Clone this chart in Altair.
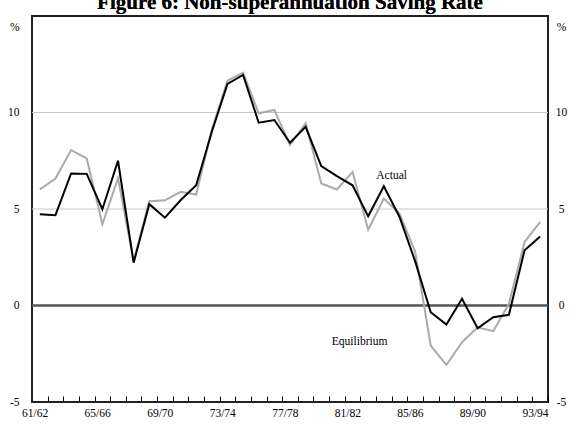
import json
import altair as alt
import pandas as pd

years = [f"{y}/{y+1}" for y in range(61, 94)]
actual = [4.73, 4.68, 6.84, 6.82, 4.99, 7.5, 2.22, 5.25, 4.55, 5.45, 6.23, 9.0,
          11.48, 11.95, 9.47, 9.61, 8.43, 9.26, 7.22, 6.70, 6.23, 4.62, 6.18, 4.6,
          2.3, -0.35, -0.99, 0.35, -1.18, -0.61, -0.48, 2.86, 3.58]
equilibrium = [6.01, 6.58, 8.05, 7.62, 4.21, 6.6, 2.3, 5.4, 5.45, 5.89, 5.75, 9.1,
               11.65, 12.07, 9.96, 10.13, 8.31, 9.44, 6.32, 6.01, 6.92, 3.93, 5.54, 4.76,
               2.8, -2.08, -3.08, -1.9, -1.13, -1.33, 0.09, 3.29, 4.33]
grid_values = [5, 10]
y_ticks = [-5, 0, 5, 10, 14.4]
annot_text = ["Actual", "Equilibrium"]
annot_x = [22.5, 20.45]
annot_y = [6.7, -1.87]

FONT = "Liberation Serif"

df = pd.DataFrame({"idx": list(range(len(years))), "year": years,
                   "actual": actual, "equilibrium": equilibrium})
grid_df = pd.DataFrame({"g": grid_values})
annot_df = pd.DataFrame({"idx": annot_x, "val": annot_y, "text": annot_text})

xscale = alt.Scale(domain=[-0.5, len(years) - 0.5], nice=False, zero=False)
yscale = alt.Scale(domain=[-5, 15], nice=False, zero=False)

label_expr = ("(round(datum.value - 0.5) % 4 == 0) ? " + json.dumps(years) +
              "[round(datum.value - 0.5)] : ''")
xaxis = alt.Axis(values=[i + 0.5 for i in range(len(years))], labelExpr=label_expr,
                 tickSize=6, offset=-6, domain=False, grid=False, tickColor="black",
                 tickWidth=1, labelFont=FONT, labelFontSize=11.5, labelColor="black",
                 labelPadding=5, labelOffset=-13, labelFlush=False, labelOverlap=False,
                 labelBound=False, title=None)

ylabel_expr = "datum.value > 14 ? '%' : '' + datum.value"
yaxis_left = alt.Axis(values=y_ticks, labelExpr=ylabel_expr, orient="left", ticks=False,
                      domain=False, grid=False, labelPadding=13, title=None,
                      labelFont=FONT, labelFontSize=11.5, labelColor="black")
yaxis_right = alt.Axis(values=y_ticks, labelExpr=ylabel_expr, orient="right", ticks=False,
                       domain=False, grid=False, labelPadding=13, title=None,
                       labelAlign="center", labelFont=FONT, labelFontSize=11.5,
                       labelColor="black")

grid = alt.Chart(grid_df).mark_rule(color="#c8c8c8", strokeWidth=1.2).encode(
    y=alt.Y("g:Q", scale=yscale, axis=yaxis_left)
)
zero = alt.Chart(grid_df).mark_rule(color="#555555", strokeWidth=2).encode(
    y=alt.YDatum(0, scale=yscale, axis=None)
)
eq_line = alt.Chart(df).mark_line(color="#aaaaaa", strokeWidth=2).encode(
    x=alt.X("idx:Q", scale=xscale, axis=xaxis),
    y=alt.Y("equilibrium:Q", scale=yscale, axis=yaxis_right),
)
act_line = alt.Chart(df).mark_line(color="#000000", strokeWidth=2).encode(
    x=alt.X("idx:Q", scale=xscale, axis=xaxis),
    y=alt.Y("actual:Q", scale=yscale, axis=None),
)
annots = alt.Chart(annot_df).mark_text(font=FONT, fontSize=11.5, color="black").encode(
    x=alt.X("idx:Q", scale=xscale, axis=xaxis),
    y=alt.Y("val:Q", scale=yscale, axis=None),
    text="text:N",
)
title = alt.Chart(grid_df).mark_text(font=FONT, fontSize=21, fontWeight="bold",
                                     color="black", baseline="alphabetic",
                                     align="center").encode(
    x=alt.value(258), y=alt.value(-7),
    text=alt.value("Figure 6: Non-superannuation Saving Rate"),
)

chart = alt.layer(grid, zero, eq_line, act_line, annots, title).resolve_axis(
    y="independent"
).properties(
    width=516, height=386,
    autosize=alt.AutoSizeParams(type="none"),
    padding={"left": 32, "top": 16, "right": 28, "bottom": 36},
    background="white",
).configure_view(stroke="#222222", strokeWidth=2)

chart.save("out.html", embed_options={"renderer": "svg", "actions": False})
